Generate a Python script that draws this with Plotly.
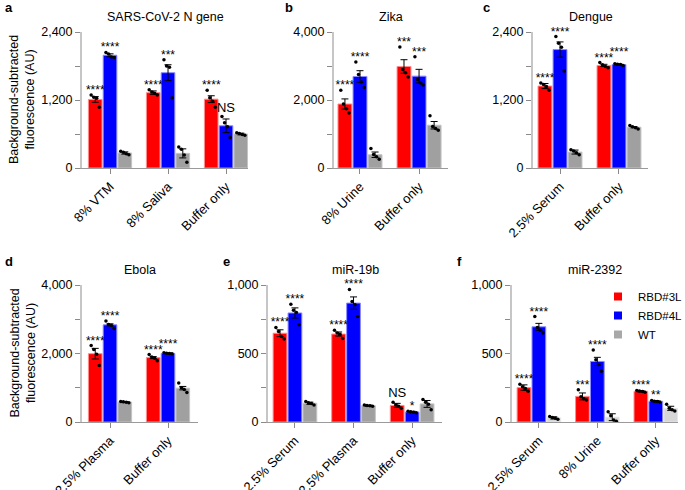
import plotly.graph_objects as go

RED = "#ff0000"
BLUE = "#0000ff"
GRAY = "#a0a0a0"
LIGHT_GRAY = "#d6d6d6"
FONT = "Liberation Sans, Arial, sans-serif"

W, H = 685, 490

# ---- a: SARS-CoV-2 N gene ----
a_cats = ["8% VTM", "8% Saliva", "Buffer only"]
a_3L = [1210, 1330, 1215]
a_3L_sem = [50, 30, 60]
a_3L_pts = [[1290, 1250, 1230, 1070], [1380, 1340, 1320, 1290], [1370, 1240, 1180, 1070]]
a_3L_sig = ["****", "****", "****"]
a_4L = [1990, 1682, 745]
a_4L_sem = [25, 140, 120]
a_4L_pts = [[2040, 2010, 1960, 1950], [1910, 1800, 1780, 1240], [910, 800, 730, 540]]
a_4L_sig = ["****", "***", "NS"]
a_wt = [265, 258, 600]
a_wt_sem = [20, 80, 15]
a_wt_pts = [[295, 280, 250, 235], [370, 330, 230, 100], [620, 610, 590, 580]]

# ---- b: Zika ----
b_cats = ["8% Urine", "Buffer only"]
b_3L = [1882, 2985]
b_3L_sem = [150, 200]
b_3L_pts = [[2290, 1880, 1740, 1620], [3560, 2900, 2800, 2680]]
b_3L_sig = ["****", "***"]
b_4L = [2692, 2702]
b_4L_sem = [170, 200]
b_4L_pts = [[3120, 2750, 2530, 2370], [3270, 2600, 2500, 2440]]
b_4L_sig = ["****", "***"]
b_wt = [390, 1258]
b_wt_sem = [80, 110]
b_wt_pts = [[570, 400, 330, 260], [1540, 1220, 1160, 1110]]

# ---- c: Dengue ----
c_cats = ["2.5% Serum", "Buffer only"]
c_3L = [1446, 1810]
c_3L_sem = [45, 20]
c_3L_pts = [[1500, 1475, 1440, 1370], [1860, 1820, 1790, 1770]]
c_3L_sig = ["****", "****"]
c_4L = [2090, 1826]
c_4L_sem = [135, 8]
c_4L_pts = [[2320, 2200, 2130, 1710], [1840, 1830, 1825, 1810]]
c_4L_sig = ["****", "****"]
c_wt = [281, 720]
c_wt_sem = [35, 10]
c_wt_pts = [[320, 300, 270, 235], [750, 730, 710, 690]]

# ---- d: Ebola ----
d_cats = ["2.5% Plasma", "Buffer only"]
d_3L = [1995, 1880]
d_3L_sem = [155, 30]
d_3L_pts = [[2230, 2120, 1980, 1650], [1970, 1900, 1860, 1790]]
d_3L_sig = ["****", "****"]
d_4L = [2837, 2005]
d_4L_sem = [30, 10]
d_4L_pts = [[2950, 2850, 2820, 2730], [2020, 2010, 2000, 1990]]
d_4L_sig = ["****", "****"]
d_wt = [581, 988]
d_wt_sem = [15, 50]
d_wt_pts = [[600, 590, 575, 560], [1140, 1000, 950, 860]]

# ---- e: miR-19b ----
e_cats = ["2.5% Serum", "2.5% Plasma", "Buffer only"]
e_3L = [648, 642, 121]
e_3L_sem = [25, 15, 15]
e_3L_pts = [[690, 660, 625, 605], [670, 650, 640, 610], [145, 125, 115, 100]]
e_3L_sig = ["****", "****", "NS"]
e_4L = [796, 868, 73]
e_4L_sem = [37, 45, 5]
e_4L_pts = [[860, 815, 800, 710], [968, 880, 855, 770], [78, 75, 72, 68]]
e_4L_sig = ["****", "****", "*"]
e_wt = [137, 119, 132]
e_wt_sem = [8, 4, 25]
e_wt_pts = [[150, 140, 135, 125], [125, 120, 118, 115], [165, 145, 130, 90]]

# ---- f: miR-2392 ----
f_cats = ["2.5% Serum", "8% Urine", "Buffer only"]
f_3L = [251, 187, 224]
f_3L_sem = [20, 25, 5]
f_3L_pts = [[275, 258, 245, 225], [235, 185, 170, 160], [230, 226, 222, 218]]
f_3L_sig = ["****", "***", "****"]
f_4L = [695, 442, 151]
f_4L_sem = [25, 30, 5]
f_4L_pts = [[770, 690, 670, 650], [525, 455, 420, 370], [157, 152, 149, 146]]
f_4L_sig = ["****", "****", "**"]
f_wt = [30, 35, 100]
f_wt_sem = [8, 25, 15]
f_wt_pts = [[40, 33, 28, 20], [75, 45, 15, 5], [130, 100, 90, 80]]

legend_names = ["RBD#3L", "RBD#4L", "WT"]

# panel layout in pixels: (x0, x1) of axis, (top, bottom) of y axis, panel letter x
panels = [
    dict(label="a", lx=3, title="SARS-CoV-2 N gene", cats=a_cats, ymax=2400, dtick=1200,
         xpx=(82, 248), ypx=(32, 168), xr=(-0.483, 2.379), wt_col=GRAY, ytitle=True,
         series=[(a_3L, a_3L_sem, a_3L_pts, a_3L_sig), (a_4L, a_4L_sem, a_4L_pts, a_4L_sig),
                 (a_wt, a_wt_sem, a_wt_pts, None)]),
    dict(label="b", lx=283, title="Zika", cats=b_cats, ymax=4000, dtick=2000,
         xpx=(334, 448), ypx=(32, 168), xr=(-0.44, 1.49), wt_col=GRAY, ytitle=False,
         series=[(b_3L, b_3L_sem, b_3L_pts, b_3L_sig), (b_4L, b_4L_sem, b_4L_pts, b_4L_sig),
                 (b_wt, b_wt_sem, b_wt_pts, None)]),
    dict(label="c", lx=481, title="Dengue", cats=c_cats, ymax=2400, dtick=1200,
         xpx=(533, 648), ypx=(32, 168), xr=(-0.458, 1.492), wt_col=GRAY, ytitle=False,
         series=[(c_3L, c_3L_sem, c_3L_pts, c_3L_sig), (c_4L, c_4L_sem, c_4L_pts, c_4L_sig),
                 (c_wt, c_wt_sem, c_wt_pts, None)]),
    dict(label="d", lx=3, title="Ebola", cats=d_cats, ymax=4000, dtick=2000,
         xpx=(82, 198), ypx=(285, 422), xr=(-0.483, 1.517), wt_col=GRAY, ytitle=True,
         series=[(d_3L, d_3L_sem, d_3L_pts, d_3L_sig), (d_4L, d_4L_sem, d_4L_pts, d_4L_sig),
                 (d_wt, d_wt_sem, d_wt_pts, None)]),
    dict(label="e", lx=221, title="miR-19b", cats=e_cats, ymax=1000, dtick=500,
         xpx=(268, 442), ypx=(285, 422), xr=(-0.46, 2.51), wt_col=GRAY, ytitle=False,
         series=[(e_3L, e_3L_sem, e_3L_pts, e_3L_sig), (e_4L, e_4L_sem, e_4L_pts, e_4L_sig),
                 (e_wt, e_wt_sem, e_wt_pts, None)]),
    dict(label="f", lx=455, title="miR-2392", cats=f_cats, ymax=1000, dtick=500,
         xpx=(512, 678), ypx=(285, 422), xr=(-0.46, 2.38), wt_col=LIGHT_GRAY, ytitle=False,
         series=[(f_3L, f_3L_sem, f_3L_pts, f_3L_sig), (f_4L, f_4L_sem, f_4L_pts, f_4L_sig),
                 (f_wt, f_wt_sem, f_wt_pts, None)]),
]

OFFSETS = [-0.255, 0.0, 0.255]
BAR_W = 0.235
JITTER = [-0.07, -0.025, 0.025, 0.07]
EDGE = {RED: "#ff8c8c", BLUE: "#8c8cff", GRAY: "#c4c4c4", LIGHT_GRAY: "#e6e6e6"}

fig = go.Figure()
layout = {}
annotations = []

for i, p in enumerate(panels):
    n = "" if i == 0 else str(i + 1)
    xa, ya = "x" + n, "y" + n
    x0, x1 = p["xpx"]
    top, bot = p["ypx"]
    px_per_unit = (bot - top) / p["ymax"]
    colors = [RED, BLUE, p["wt_col"]]
    prev_star_y = None

    for k, (means, sems, pts, sig) in enumerate(p["series"]):
        xs = [j + OFFSETS[k] for j in range(len(means))]
        fig.add_trace(go.Bar(
            x=xs, y=means, width=BAR_W, xaxis=xa, yaxis=ya, showlegend=False,
            marker=dict(color=colors[k], line=dict(color=EDGE[colors[k]], width=1)),
            error_y=dict(type="data", array=sems, color="black", thickness=1, width=3.5),
        ))
        dx, dy = [], []
        for j, group in enumerate(pts):
            for m, v in enumerate(group):
                dx.append(xs[j] + JITTER[m])
                dy.append(v)
        fig.add_trace(go.Scatter(
            x=dx, y=dy, mode="markers", xaxis=xa, yaxis=ya, showlegend=False,
            marker=dict(color="black", size=3.5), cliponaxis=False,
        ))
        if sig:
            tops = [max(max(pts[j]), means[j] + sems[j]) for j in range(len(means))]
            star_y = [t + 4 / px_per_unit for t in tops]
            # stagger neighbouring star labels that would sit on the same height
            if prev_star_y is not None:
                for j in range(len(star_y)):
                    if sig[j] != "NS" and abs(star_y[j] - prev_star_y[j]) < 6 / px_per_unit:
                        star_y[j] = prev_star_y[j] + 6 / px_per_unit
            prev_star_y = star_y
            st = [j for j in range(len(sig)) if sig[j] != "NS"]
            fig.add_trace(go.Scatter(
                x=[xs[j] for j in st], y=[star_y[j] for j in st],
                text=[sig[j] for j in st], mode="text", textposition="middle center",
                textfont=dict(size=12, color="black", family=FONT),
                xaxis=xa, yaxis=ya, showlegend=False, cliponaxis=False,
            ))
            ns = [j for j in range(len(sig)) if sig[j] == "NS"]
            if ns:
                fig.add_trace(go.Scatter(
                    x=[xs[j] for j in ns], y=[tops[j] + 8 / px_per_unit for j in ns],
                    text=["NS"] * len(ns), mode="text", textposition="middle center",
                    textfont=dict(size=13, color="black", family=FONT),
                    xaxis=xa, yaxis=ya, showlegend=False, cliponaxis=False,
                ))

    layout["xaxis" + n] = dict(
        domain=[x0 / W, x1 / W], anchor=ya, range=list(p["xr"]), automargin=False,
        tickvals=list(range(len(p["cats"]))), ticktext=p["cats"], tickangle=-45,
        ticks="outside", ticklen=5, tickcolor="#8a8a8a", tickwidth=1,
        showline=True, linecolor="#9a9a9a", linewidth=1,
        showgrid=False, zeroline=False, tickfont=dict(size=13, color="black"),
    )
    layout["yaxis" + n] = dict(
        domain=[1 - bot / H, 1 - top / H], anchor=xa, range=[0, p["ymax"]], automargin=False,
        dtick=p["dtick"], tick0=0, tickformat=",d",
        ticks="outside", ticklen=5, tickcolor="#8a8a8a", tickwidth=1,
        minor=dict(dtick=p["dtick"] / 2, ticks="outside", ticklen=5, tickcolor="#8a8a8a", showgrid=False),
        showline=True, linecolor="#c6c6c6", linewidth=2,
        showgrid=False, zeroline=False, tickfont=dict(size=12.5, color="black"),
    )

    annotations.append(dict(
        text=p["title"], x=(x0 + x1) / 2 / W, y=1 - (top - 15) / H, xref="paper", yref="paper",
        showarrow=False, font=dict(size=12.5, color="black"), xanchor="center", yanchor="middle",
    ))
    annotations.append(dict(
        text="<b>%s</b>" % p["label"], x=p["lx"] / W, y=1 - (top - 24) / H, xref="paper", yref="paper",
        showarrow=False, font=dict(size=13, color="black"), xanchor="left", yanchor="middle",
    ))
    if p["ytitle"]:
        annotations.append(dict(
            text="Background-subtracted<br>fluorescence (AU)", x=22 / W, y=1 - (top + bot) / 2 / H,
            xref="paper", yref="paper", showarrow=False, textangle=-90,
            font=dict(size=12.5, color="black"), xanchor="center", yanchor="middle",
        ))

# legend entries (panel f)
for name, col in zip(legend_names, [RED, BLUE, "#a8a8a8"]):
    fig.add_trace(go.Scatter(
        x=[None], y=[None], mode="markers", name=name, xaxis="x6", yaxis="y6",
        marker=dict(symbol="square", size=8, color=col),
    ))

fig.update_layout(
    width=W, height=H, margin=dict(l=0, r=0, t=0, b=0, autoexpand=False),
    paper_bgcolor="white", plot_bgcolor="white",
    font=dict(family=FONT, size=12, color="black"),
    barmode="overlay", showlegend=True,
    legend=dict(x=598 / W, y=1 - 282 / H, xanchor="left", yanchor="top",
                bgcolor="rgba(0,0,0,0)", font=dict(size=11.5), tracegroupgap=0,
                itemwidth=30),
    annotations=annotations,
    **layout,
)

# the page has a default body margin; drop it so the figure sits at the window's corner
fig.write_html("out.html", config={"displayModeBar": False},
               post_script="document.body.style.margin='0';")
